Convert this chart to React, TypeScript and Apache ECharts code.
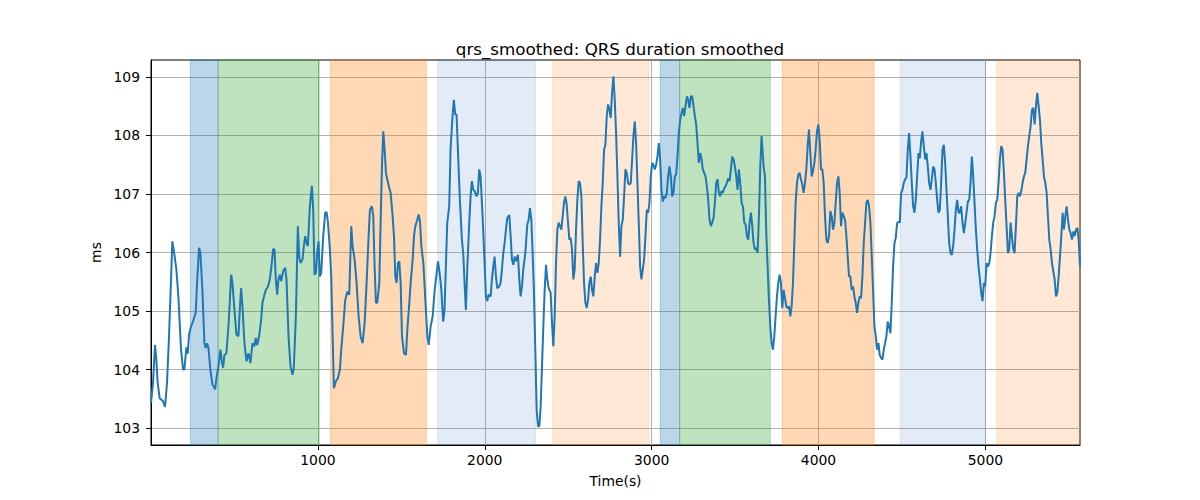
import { useEffect, useRef } from 'react'
import * as echarts from 'echarts'

// QRS duration (ms), [time s, value]
const qrsPart1: [number, number][] = [
  [0, 103.43], [12, 103.77], [24, 104.42], [32, 104.17], [40, 103.77], [52, 103.51], [64, 103.48], [72, 103.46], [84, 103.36], [96, 103.77],
  [108, 104.57], [128, 106.19], [136, 106.05], [152, 105.71], [164, 105.25], [180, 104.34], [192, 104.0], [200, 104.0], [212, 104.38], [220, 104.27],
  [228, 104.6], [240, 104.74], [252, 104.82], [268, 104.97], [276, 105.48], [288, 106.08], [296, 105.99], [308, 105.36], [320, 104.45], [328, 104.37],
  [336, 104.45], [344, 104.37], [356, 104.0], [368, 103.74], [376, 103.71], [384, 103.66], [392, 103.85], [404, 104.05], [416, 104.34], [424, 104.14],
  [432, 104.03], [440, 104.25], [452, 104.28], [464, 104.74], [472, 105.14], [480, 105.62], [488, 105.48], [500, 105.02], [512, 104.6], [524, 104.57],
  [532, 105.02], [540, 105.39], [548, 105.08], [560, 104.45], [572, 104.14], [584, 104.28], [596, 104.11], [608, 104.45], [620, 104.4], [628, 104.54],
  [636, 104.42], [648, 104.57], [660, 104.85], [668, 105.14], [680, 105.28], [688, 105.36], [700, 105.41], [712, 105.54], [724, 105.82], [732, 106.06],
  [740, 106.05], [748, 105.54], [756, 105.28], [764, 105.54], [772, 105.62], [780, 105.51], [792, 105.68], [804, 105.74], [812, 105.54], [824, 104.57],
  [836, 104.05], [848, 103.91], [856, 104.03], [868, 104.91], [880, 106.45], [888, 105.93], [896, 105.82], [908, 105.88], [916, 106.11], [924, 106.28],
  [932, 106.17], [940, 106.11], [952, 106.79], [964, 107.14], [972, 106.73], [980, 105.62], [988, 105.65], [996, 105.99], [1004, 106.19], [1012, 105.59],
  [1020, 105.65], [1032, 106.28], [1044, 106.68], [1052, 106.69], [1060, 106.53], [1072, 106.05], [1080, 105.59], [1088, 104.62], [1096, 103.68], [1108, 103.8],
  [1120, 103.85], [1132, 104.0], [1140, 104.34], [1152, 104.74], [1164, 105.19], [1176, 105.33], [1188, 105.28], [1200, 106.45], [1208, 106.11], [1220, 105.88],
  [1232, 105.48], [1244, 104.91], [1256, 104.57], [1268, 104.45], [1280, 104.79], [1292, 105.48], [1304, 106.28], [1312, 106.73], [1324, 106.79], [1332, 106.62],
  [1340, 105.76], [1348, 105.14], [1356, 105.14], [1368, 105.48], [1376, 106.51], [1384, 107.47], [1392, 108.07], [1400, 107.76], [1408, 107.36], [1416, 107.25],
  [1428, 107.1], [1436, 107.02], [1448, 106.62], [1456, 106.28], [1464, 105.59], [1472, 105.48], [1480, 105.82], [1488, 105.85], [1496, 105.48], [1504, 104.57],
  [1516, 104.28], [1528, 104.25], [1536, 104.68], [1548, 105.14], [1556, 105.48], [1568, 105.88], [1576, 106.28], [1584, 106.45], [1596, 106.56], [1604, 106.65],
  [1612, 106.53], [1620, 106.11], [1632, 105.82], [1644, 105.19], [1656, 104.57], [1664, 104.42], [1676, 104.74], [1688, 104.91], [1700, 105.36], [1712, 105.65],
  [1720, 105.85], [1732, 105.59], [1740, 105.36],
]

const qrsPart2: [number, number][] = [
  [1751, 104.82], [1759, 105.02], [1767, 105.76], [1775, 106.5], [1787, 106.79], [1795, 107.76], [1807, 108.33], [1815, 108.61], [1823, 108.36], [1831, 108.36],
  [1839, 107.76], [1851, 106.9], [1863, 106.22], [1871, 105.99], [1879, 105.48], [1887, 105.02], [1895, 105.71], [1907, 106.5], [1915, 106.96], [1923, 107.22],
  [1931, 107.08], [1939, 107.05], [1951, 106.96], [1959, 107.02], [1967, 107.42], [1975, 107.3], [1987, 106.62], [1999, 105.82], [2007, 105.25], [2015, 105.17],
  [2023, 105.28], [2035, 105.25], [2043, 105.54], [2051, 105.76], [2059, 105.93], [2067, 105.59], [2075, 105.39], [2087, 105.42], [2095, 105.48], [2103, 105.71],
  [2111, 105.99], [2119, 106.16], [2127, 106.39], [2135, 106.59], [2147, 106.64], [2155, 106.28], [2163, 105.88], [2171, 105.79], [2179, 105.93], [2187, 105.85],
  [2199, 105.96], [2207, 105.54], [2215, 105.25], [2223, 105.42], [2231, 105.71], [2243, 105.99], [2255, 106.48], [2263, 106.56], [2271, 106.76], [2279, 106.56],
  [2287, 105.99], [2295, 105.31], [2303, 104.34], [2311, 103.31], [2319, 103.03], [2327, 103.03], [2335, 103.37], [2343, 104.05], [2351, 104.74], [2359, 105.36],
  [2367, 105.79], [2375, 105.54], [2383, 105.39], [2395, 105.31], [2403, 104.79], [2411, 104.4], [2419, 104.91], [2427, 105.82], [2435, 106.39], [2443, 106.51],
  [2451, 106.45], [2459, 106.39], [2467, 106.62], [2475, 106.85], [2483, 106.96], [2491, 106.82], [2499, 106.51], [2507, 106.22], [2515, 106.25], [2523, 106.05],
  [2531, 105.54], [2539, 105.71], [2547, 106.39], [2555, 106.9], [2563, 107.22], [2571, 107.19], [2579, 106.96], [2587, 106.16], [2595, 105.48], [2603, 105.14],
  [2611, 105.05], [2619, 105.19], [2627, 105.48], [2635, 105.59], [2643, 105.36], [2651, 105.25], [2659, 105.59], [2667, 105.82], [2675, 105.65], [2683, 105.82],
  [2691, 106.22], [2699, 106.79], [2707, 107.19], [2715, 107.76], [2723, 107.84], [2731, 108.33], [2739, 108.53], [2747, 108.44], [2755, 108.3], [2763, 108.73],
  [2771, 109.01], [2779, 108.61], [2787, 108.04], [2795, 107.3], [2803, 106.5], [2811, 105.93], [2819, 106.45], [2827, 106.56], [2835, 106.96], [2843, 107.42],
  [2851, 107.36], [2859, 107.19], [2867, 107.16], [2875, 107.19], [2883, 107.59], [2891, 107.99], [2899, 108.24], [2907, 107.87], [2915, 107.19], [2923, 106.5],
  [2931, 105.76], [2939, 105.54], [2947, 105.71], [2955, 105.88], [2963, 106.28], [2971, 106.73], [2979, 106.68], [2987, 106.85], [2995, 107.3], [3003, 107.53],
  [3011, 107.5], [3019, 107.42], [3027, 107.5], [3035, 107.64], [3043, 107.87], [3051, 107.59], [3059, 107.07], [3067, 106.87], [3075, 106.96], [3083, 106.93],
  [3091, 107.02], [3099, 107.3], [3107, 107.47], [3115, 107.3], [3123, 106.96], [3131, 107.02], [3139, 107.3], [3147, 107.33], [3155, 107.64], [3163, 108.04],
  [3171, 108.27], [3179, 108.38], [3187, 108.47], [3195, 108.33], [3203, 108.5], [3211, 108.67], [3219, 108.61], [3227, 108.47], [3235, 108.67], [3243, 108.67],
  [3251, 108.5], [3259, 108.33], [3267, 108.19], [3275, 107.87], [3283, 107.53], [3291, 107.7], [3299, 107.59], [3307, 107.42], [3315, 107.36], [3323, 107.3],
  [3331, 107.13], [3339, 106.9], [3347, 106.56], [3355, 106.45], [3363, 106.51], [3371, 106.59], [3379, 106.85], [3387, 107.19], [3395, 107.25], [3403, 107.02],
  [3411, 106.96], [3419, 107.05], [3427, 107.02], [3435, 107.1], [3443, 107.13], [3451, 107.19], [3459, 107.27], [3467, 107.22], [3475, 107.42], [3483, 107.64],
  [3491, 107.59], [3499, 107.47], [3507, 107.3], [3515, 107.07], [3523, 107.42], [3531, 107.19], [3539, 106.85], [3547, 106.79], [3555, 106.51], [3563, 106.48],
  [3571, 106.28], [3579, 106.22], [3587, 106.5], [3595, 106.68], [3603, 106.45], [3611, 106.16], [3619, 106.05], [3627, 106.08], [3635, 105.99], [3643, 106.62],
  [3651, 107.47], [3659, 107.99],
]

const qrsPart3: [number, number][] = [
  [3671, 107.47], [3679, 107.3], [3687, 106.33], [3695, 105.76], [3703, 105.19], [3711, 104.74], [3719, 104.45], [3727, 104.34], [3735, 104.57], [3743, 104.91],
  [3751, 105.25], [3759, 105.48], [3767, 105.62], [3775, 105.48], [3783, 105.05], [3791, 105.36], [3799, 105.22], [3807, 105.08], [3815, 105.05], [3823, 105.08],
  [3831, 104.91], [3839, 105.08], [3847, 105.48], [3855, 106.16], [3863, 106.85], [3871, 107.19], [3879, 107.33], [3887, 107.36], [3895, 107.25], [3903, 107.16],
  [3911, 107.02], [3919, 107.19], [3927, 107.42], [3935, 107.82], [3943, 108.1], [3951, 107.7], [3959, 107.3], [3967, 107.39], [3975, 107.53], [3983, 107.76],
  [3991, 108.07], [3999, 108.19], [4007, 107.93], [4015, 107.42], [4023, 107.42], [4031, 107.19], [4039, 106.62], [4047, 106.22], [4055, 106.16], [4063, 106.28],
  [4071, 106.71], [4079, 106.62], [4087, 106.39], [4095, 106.5], [4103, 106.85], [4111, 107.19], [4119, 107.3], [4127, 107.02], [4135, 106.45], [4143, 106.68],
  [4151, 106.62], [4159, 106.56], [4167, 106.28], [4175, 105.93], [4183, 105.59], [4191, 105.59], [4199, 105.36], [4207, 105.42], [4215, 105.25], [4223, 105.14],
  [4231, 104.97], [4239, 105.14], [4247, 105.25], [4255, 105.22], [4263, 105.59], [4271, 106.16], [4279, 106.5], [4287, 106.85], [4295, 106.9], [4303, 106.79],
  [4311, 106.51], [4319, 105.93], [4327, 105.36], [4335, 104.74], [4343, 104.57], [4351, 104.34], [4359, 104.45], [4367, 104.25], [4375, 104.2], [4383, 104.17],
  [4391, 104.34], [4399, 104.45], [4407, 104.57], [4415, 104.82], [4423, 104.74], [4431, 104.62], [4439, 105.14], [4447, 105.76], [4455, 106.16], [4463, 106.25],
  [4471, 106.5], [4479, 106.53], [4487, 106.51], [4495, 107.02], [4503, 107.07], [4511, 107.19], [4519, 107.25], [4527, 107.28], [4535, 107.76], [4543, 108.04],
  [4551, 107.65], [4559, 107.19], [4567, 106.79], [4575, 106.68], [4583, 106.9], [4591, 107.3], [4599, 107.7], [4607, 107.61], [4615, 107.9], [4623, 108.07],
  [4631, 107.82], [4639, 107.59], [4647, 107.7], [4655, 107.47], [4663, 107.19], [4671, 107.07], [4679, 107.25], [4687, 107.47], [4695, 107.42], [4703, 107.19],
  [4711, 106.9], [4719, 106.68], [4727, 106.73], [4735, 107.19], [4743, 107.76], [4751, 107.84], [4759, 107.53], [4767, 107.07], [4775, 106.62], [4783, 106.16],
  [4791, 105.99], [4799, 105.96], [4807, 106.11], [4815, 106.39], [4823, 106.73], [4831, 106.9], [4839, 106.68], [4847, 106.68], [4855, 106.79], [4863, 106.51],
  [4871, 106.33], [4879, 106.5], [4887, 106.68], [4895, 106.87], [4903, 106.9], [4911, 107.19], [4919, 107.64], [4927, 107.3], [4935, 106.85], [4943, 106.39],
  [4951, 106.05], [4959, 105.76], [4967, 105.54], [4975, 105.31], [4983, 105.17], [4991, 105.48], [4999, 105.42], [5007, 105.82], [5015, 105.76], [5023, 105.82],
  [5031, 105.99], [5039, 106.28], [5047, 106.51], [5055, 106.62], [5063, 106.85], [5071, 106.9], [5079, 107.19], [5087, 107.59], [5095, 107.82], [5103, 107.76],
  [5111, 107.36], [5119, 106.9], [5127, 106.45], [5135, 105.99], [5143, 106.05], [5151, 106.51], [5159, 106.28], [5167, 106.05], [5175, 105.99], [5183, 106.45],
  [5191, 106.96], [5199, 107.02], [5207, 106.96], [5215, 107.05], [5223, 107.19], [5231, 107.3], [5239, 107.36], [5247, 107.59], [5255, 107.82], [5263, 107.99],
  [5271, 108.16], [5279, 108.44], [5287, 108.47], [5295, 108.19], [5303, 108.5], [5311, 108.73], [5319, 108.5], [5327, 108.27], [5335, 107.87], [5343, 107.59],
  [5351, 107.3], [5359, 107.19], [5367, 107.02], [5375, 106.62], [5383, 106.22], [5391, 106.05], [5399, 105.82], [5407, 105.68], [5415, 105.54], [5423, 105.25],
  [5431, 105.31], [5439, 105.59], [5447, 105.93], [5455, 106.28], [5463, 106.68], [5471, 106.39], [5479, 106.62], [5487, 106.79], [5495, 106.56], [5503, 106.39],
  [5511, 106.33], [5519, 106.22], [5527, 106.36], [5535, 106.28], [5543, 106.39], [5551, 106.42], [5559, 106.22], [5567, 105.76],
]

// shaded segments (seconds)
const bandStarts = [236, 402, 1076, 1718, 2407, 3052, 3168, 3783, 4490, 5068]
const bandEnds = [402, 1008, 1650, 2303, 2984, 3168, 3711, 4333, 5000, 5567]
const bandKinds = ['blue', 'green', 'orange', 'lightblue', 'lightorange', 'blue', 'green', 'orange', 'lightblue', 'lightorange']

const xTicks = [1000, 2000, 3000, 4000, 5000]
const yTicks = [103, 104, 105, 106, 107, 108, 109]

const bandColors: Record<string, string> = {
  blue: 'rgba(31,119,180,0.3)',
  green: 'rgba(44,160,44,0.3)',
  orange: 'rgba(255,127,14,0.3)',
  lightblue: 'rgba(68,122,195,0.15)',
  lightorange: 'rgba(255,127,14,0.17)',
}

const font = 'DejaVu Sans'

const App = () => {
  const chartRef = useRef<HTMLDivElement>(null)

  useEffect(() => {
    if (!chartRef.current) return
    const chart = echarts.init(chartRef.current, null, { renderer: 'svg' })

    const series = [...qrsPart1, ...qrsPart2, ...qrsPart3]
    const areas = bandStarts.map((s, i) => [
      {
        xAxis: s,
        itemStyle: { color: bandColors[bandKinds[i]], borderColor: bandColors[bandKinds[i]], borderWidth: 1 },
      },
      { xAxis: bandEnds[i] },
    ])

    chart.setOption({
      animation: false,
      title: {
        text: 'qrs_smoothed: QRS duration smoothed',
        left: 615,
        top: 35,
        textAlign: 'center',
        textStyle: { fontFamily: font, fontSize: 16.7, fontWeight: 'normal', color: '#000' },
      },
      grid: {
        left: 151,
        right: 120,
        top: 60,
        bottom: 55,
        show: true,
        borderColor: '#000',
        borderWidth: 1,
        backgroundColor: 'transparent',
      },
      xAxis: {
        type: 'value',
        min: 0,
        max: 5567,
        name: 'Time(s)',
        nameLocation: 'middle',
        nameGap: 29,
        nameTextStyle: { fontFamily: font, fontSize: 13.9, color: '#000' },
        axisLine: { show: true, lineStyle: { color: '#000', width: 1 } },
        axisTick: { show: true, length: 5, lineStyle: { color: '#000' }, customValues: xTicks },
        axisLabel: {
          customValues: xTicks,
          formatter: (v: number) => String(v),
          fontFamily: font,
          fontSize: 13.9,
          color: '#000',
          margin: 8,
        },
        splitLine: { show: true, lineStyle: { color: '#b0b0b0', width: 1 } },
      },
      yAxis: {
        type: 'value',
        min: 102.71,
        max: 109.29,
        name: 'ms',
        nameLocation: 'middle',
        nameGap: 43,
        nameTextStyle: { fontFamily: font, fontSize: 13.9, color: '#000' },
        axisLine: { show: true, lineStyle: { color: '#000', width: 1 } },
        axisTick: { show: true, length: 5, lineStyle: { color: '#000' }, customValues: yTicks },
        axisLabel: {
          customValues: yTicks,
          formatter: (v: number) => String(v),
          fontFamily: font,
          fontSize: 13.9,
          color: '#000',
          margin: 11,
        },
        splitLine: { show: true, lineStyle: { color: '#b0b0b0', width: 1 } },
      },
      series: [
        {
          type: 'line',
          data: series,
          showSymbol: false,
          smooth: false,
          lineStyle: { color: '#1f77b4', width: 2 },
          itemStyle: { color: '#1f77b4' },
          z: 3,
          markArea: { silent: true, data: areas },
        },
      ],
    })

    return () => chart.dispose()
  }, [])

  return <div ref={chartRef} style={{ position: 'absolute', left: 0, top: 0, width: 1200, height: 500 }} />
}

export default App
